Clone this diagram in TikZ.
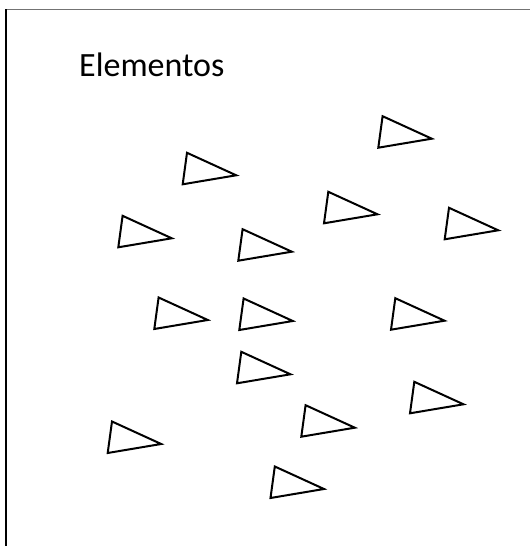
\documentclass[tikz,border=0pt]{standalone}
\usepackage{fontspec}
\setmainfont{Carlito}
\begin{document}
\begin{tikzpicture}[x=1pt,y=1pt,
  tri/.style={draw=black,line width=2pt,line join=miter},
  frametop/.style={draw=black!55,line width=1.3pt},
  frameleft/.style={draw=black,line width=1.3pt}]
\useasboundingbox (0,0) rectangle (530,546);
% frame (top and left edges)
\coordinate (fl) at (6,546-9.2);
\coordinate (fr) at (530,546-9.2);
\coordinate (fb) at (6,0);
\draw[frametop] (fl) -- (fr);
\draw[frameleft] (fl) -- (fb);
% title
\node[anchor=base west,inner sep=0pt,font=\fontsize{34}{40}\selectfont] (title) at (79,546-77) {Elementos};
% triangles (bottom-left corner positions)
\foreach \px/\py in {182.7/184.3,118.3/247.3,238.3/260.7,378.3/147.7,324/223.3,444.7/239.3,
  107.7/453,301.3/436.7,270.5/498,154.3/329,239.3/330,237/383.3,391/329.7,410/413.3}{
  \draw[tri] (\px,546-\py) -- ++(4.3,31.5) -- ++(49.2,-22.5) -- cycle;
}
\end{tikzpicture}
\end{document}
